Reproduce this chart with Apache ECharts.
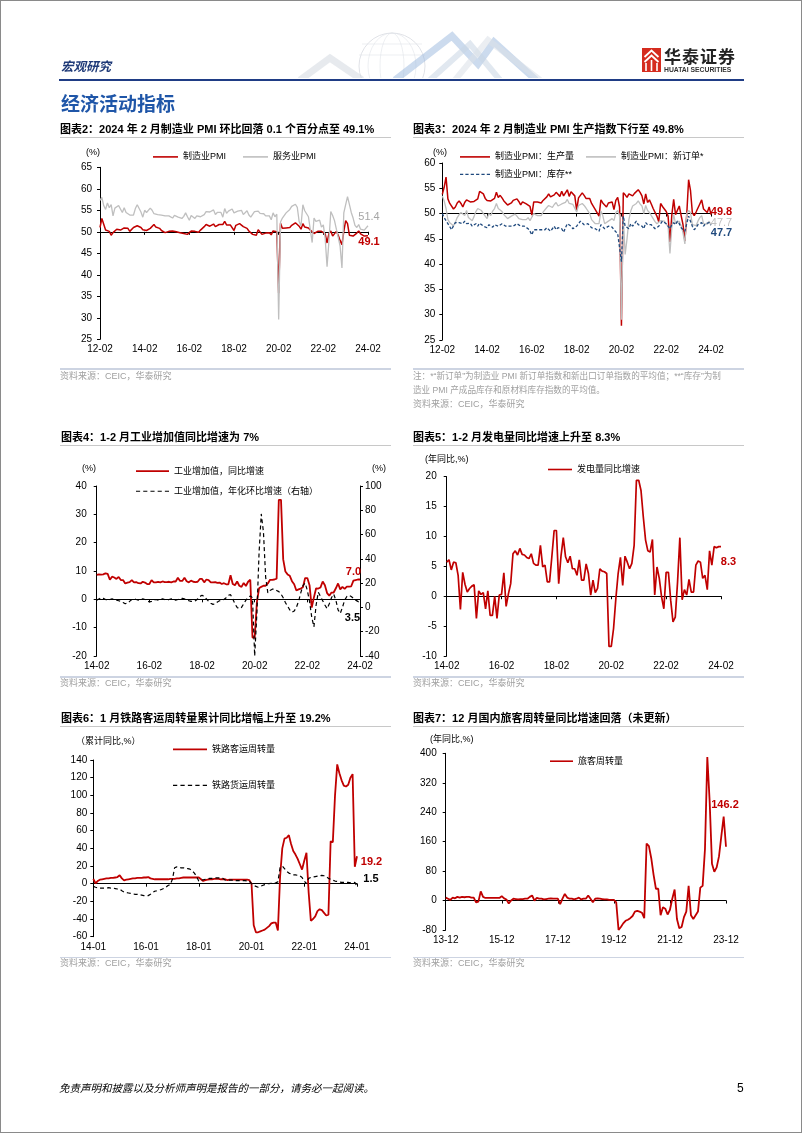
<!DOCTYPE html>
<html lang="zh-CN">
<head>
<meta charset="utf-8">
<title>经济活动指标</title>
<script src="https://cdn.jsdelivr.net/npm/echarts@6/dist/echarts.min.js"></script>
<style>
  html,body{margin:0;padding:0;background:#fff;}
  #page{position:relative;width:802px;height:1133px;overflow:hidden;background:#fff;}
  #frame{position:absolute;left:0;top:0;width:800px;height:1131px;border:1px solid #8a8a8a;pointer-events:none;}
  #chart{position:absolute;left:0;top:0;width:802px;height:1133px;}
  #deco{position:absolute;left:0;top:0;}
  .t{position:absolute;white-space:nowrap;font-family:"Liberation Sans","Noto Sans CJK SC",sans-serif;color:#000;}
  .ln{position:absolute;}
</style>
</head>
<body>
<div id="page">
  <svg id="deco" width="802" height="140" viewBox="0 0 802 140">
    <defs><clipPath id="cp"><rect x="0" y="0" width="802" height="78"/></clipPath></defs>
    <g clip-path="url(#cp)" fill="none">
      <circle cx="392" cy="66" r="33" stroke="#d8dbe1" stroke-width="0.8"/>
      <ellipse cx="392" cy="66" rx="12" ry="33" stroke="#e1e4e9" stroke-width="0.6"/>
      <ellipse cx="392" cy="66" rx="24" ry="33" stroke="#e1e4e9" stroke-width="0.6"/>
      <line x1="359" y1="55" x2="425" y2="55" stroke="#e1e4e9" stroke-width="0.6"/>
      <line x1="362" y1="44" x2="422" y2="44" stroke="#e1e4e9" stroke-width="0.6"/>
      <polyline points="300,80 330,58 362,80" stroke="#d0d6de" stroke-width="7" stroke-opacity="0.5"/>
      <polyline points="395,80 452,36 478,64 494,42 536,80" stroke="#9ab8de" stroke-width="7" stroke-opacity="0.5"/>
      <polyline points="430,80 470,44 500,80" stroke="#c9d5e4" stroke-width="6" stroke-opacity="0.55"/>
      <polyline points="455,80 488,40 540,80" stroke="#dae0e8" stroke-width="6" stroke-opacity="0.55"/>
    </g>
    <rect x="642" y="48" width="19" height="24" fill="#d52b1e"/>
    <polyline points="644.5,57 651.5,50.5 658.5,57" fill="none" stroke="#fff" stroke-width="1.8"/>
    <polyline points="644.5,62 651.5,55.5 658.5,62" fill="none" stroke="#fff" stroke-width="1.8"/>
    <line x1="646" y1="63" x2="646" y2="71" stroke="#fff" stroke-width="1.6"/>
    <line x1="651.5" y1="60" x2="651.5" y2="71" stroke="#fff" stroke-width="1.6"/>
    <line x1="657" y1="63" x2="657" y2="71" stroke="#fff" stroke-width="1.6"/>
  </svg>
  <div id="chart"></div>
  <div id="frame"></div>
</div>
<script>
// ---------------- DATA ----------------
// Chart 2: PMI, 2012-02 .. 2024-02 (monthly)
const PMI_MFG = [
  51.0,53.1,53.3,50.4,50.2,50.1,49.2,49.8,50.2,50.6,50.6,
  50.4,50.1,50.9,50.6,50.8,50.1,50.3,51.0,51.1,51.4,51.4,51.0,
  50.5,50.2,50.3,50.4,50.8,51.0,51.7,51.1,51.1,50.8,50.3,50.1,
  49.8,49.9,50.1,50.1,50.2,50.2,50.0,49.7,49.8,49.8,49.6,49.7,
  49.4,49.0,50.2,50.1,50.1,50.0,49.9,50.4,50.4,51.2,51.7,51.4,
  51.3,51.6,51.8,51.2,51.2,51.7,51.4,51.7,52.4,51.6,51.8,51.6,
  51.3,50.3,51.5,51.4,51.9,51.5,51.2,51.3,50.8,50.2,50.0,49.4,
  49.5,49.2,50.5,50.1,49.4,49.4,49.7,49.5,49.8,49.3,50.2,50.2,
  50.0,35.7,52.0,50.8,50.6,50.9,51.1,51.0,51.5,51.4,52.1,51.9,
  51.3,50.6,51.9,51.1,51.0,50.9,50.4,50.1,49.6,49.2,50.1,50.3,
  50.1,50.2,49.5,47.4,49.6,50.2,49.0,49.4,50.1,49.2,48.0,47.0,
  50.1,52.6,51.9,49.2,48.8,49.0,49.3,49.7,50.2,49.5,49.4,49.0,
  49.2,49.1];
const PMI_SRV = [
  57.3,58.0,56.1,55.2,56.7,55.6,56.3,53.7,55.5,55.6,56.1,
  56.2,54.5,55.6,54.5,54.3,53.9,54.1,53.9,55.4,56.3,56.0,54.6,
  53.4,55.0,54.5,54.8,55.5,55.0,54.2,54.4,54.0,53.8,53.9,54.1,
  53.7,53.9,53.7,53.4,53.2,53.8,53.9,53.4,53.4,53.1,53.6,54.4,
  53.5,52.7,53.8,53.5,53.1,53.7,53.9,53.5,53.7,54.0,54.7,54.5,
  54.6,54.2,55.1,54.0,54.5,54.9,54.5,53.4,55.4,54.3,54.8,55.0,
  55.3,54.4,54.6,54.8,54.9,55.0,54.0,54.2,54.9,53.9,53.4,53.8,
  54.7,54.3,54.8,54.3,54.3,54.2,53.7,53.8,53.7,52.8,54.4,53.5,
  54.1,29.6,52.3,53.2,53.6,54.4,54.2,55.2,55.9,56.2,56.4,55.7,
  52.4,51.4,56.3,54.9,55.2,53.5,53.3,47.5,53.2,52.4,52.3,52.7,
  51.1,51.6,48.4,41.9,47.8,54.7,53.8,52.6,50.6,48.7,46.7,41.6,
  54.4,56.3,58.2,56.4,54.5,53.2,51.5,51.0,51.7,50.6,50.2,50.4,
  50.7,51.4];
// Chart 3: PMI sub-indices, 2012-02 .. 2024-02
const PMI_PROD = [
  53.8,55.2,57.2,52.9,52.0,51.8,50.9,51.3,52.1,52.5,52.0,
  51.3,52.2,52.7,52.6,52.3,52.0,52.4,52.6,52.9,54.4,54.5,53.9,
  53.0,52.6,52.7,52.5,52.8,53.0,54.2,53.2,53.6,53.1,52.5,52.2,
  51.7,51.4,52.1,52.6,52.9,52.9,52.4,51.7,52.3,52.2,51.9,52.2,
  51.4,49.7,52.3,52.2,52.3,52.5,52.1,52.6,52.8,53.3,53.9,53.3,
  53.1,53.7,54.2,53.8,53.4,54.4,53.5,54.1,54.7,53.4,54.3,54.0,
  53.5,50.7,53.1,53.1,54.1,53.6,53.0,53.3,53.0,52.0,51.9,50.8,
  50.9,49.5,52.7,52.1,51.7,51.3,52.1,51.9,52.3,50.8,52.6,53.2,
  51.3,27.8,54.1,53.7,53.2,53.9,54.0,53.5,54.0,53.9,54.7,54.2,
  53.5,51.9,53.9,52.2,52.7,51.9,51.0,50.9,49.5,48.4,52.0,51.4,
  50.9,50.4,49.5,44.4,49.7,52.8,49.8,49.8,51.5,49.6,47.8,44.6,
  49.8,56.7,54.6,50.2,49.6,50.3,50.2,51.9,52.7,50.9,50.7,50.2,
  51.3,49.8];
const PMI_NEWORD = [
  53.5,52.5,51.0,48.8,48.2,48.5,47.6,48.3,49.2,49.8,50.2,
  50.0,49.6,50.6,49.2,49.5,48.6,49.4,50.4,51.0,51.2,50.6,50.0,
  49.5,49.0,50.0,49.6,50.5,51.0,52.0,51.0,50.8,50.4,49.8,49.5,
  49.0,49.3,49.5,49.8,49.9,49.5,49.0,48.8,48.8,49.0,48.8,49.2,
  48.6,48.3,50.0,49.8,49.6,49.5,49.6,50.3,50.3,51.2,51.6,51.3,
  51.2,51.8,52.2,51.5,51.3,51.9,51.7,52.2,52.8,52.0,52.1,51.8,
  51.6,50.3,51.6,51.7,52.0,51.6,51.1,50.8,50.0,48.8,48.6,48.0,
  48.0,48.0,50.5,49.6,48.0,48.0,48.5,48.8,49.0,48.6,50.2,50.6,
  49.6,29.0,49.2,41.9,45.0,48.8,50.5,51.5,51.8,52.0,52.5,51.9,
  51.5,50.0,51.6,50.6,50.2,49.6,49.0,48.4,48.0,48.0,48.6,48.8,
  48.5,48.6,47.4,42.1,47.2,49.8,48.0,48.2,48.5,47.6,46.2,44.0,
  50.0,50.6,50.2,47.8,47.5,47.6,48.5,49.2,49.6,48.0,48.3,47.9,
  48.5,47.7];
const PMI_INV = [
  50.0,49.2,48.6,48.0,47.4,46.8,47.6,48.2,48.5,48.2,48.5,
  48.0,48.5,48.0,47.8,48.1,47.5,47.8,48.0,47.5,48.1,47.8,47.5,
  47.5,47.2,47.8,47.5,47.3,47.8,48.0,47.5,47.8,48.0,47.8,47.5,
  47.8,47.5,47.2,47.5,47.8,48.0,47.8,47.5,47.3,47.5,47.2,47.0,
  46.5,45.8,46.8,46.5,46.8,47.0,46.8,47.0,46.8,47.2,47.0,46.5,
  47.0,47.5,46.8,47.2,47.5,47.0,46.3,47.2,48.0,48.2,47.5,47.0,
  47.2,47.5,48.0,48.5,48.2,47.8,47.5,48.0,47.8,47.2,47.5,47.0,
  47.0,46.5,47.8,47.5,47.0,47.2,47.5,47.5,47.3,46.8,46.5,46.0,
  45.8,40.5,49.5,47.5,47.5,47.0,48.0,47.5,48.0,48.5,47.8,48.0,
  47.5,47.0,48.2,47.8,47.5,47.8,47.5,47.0,47.2,47.5,47.8,48.5,
  48.2,48.0,47.5,47.0,47.8,48.2,47.8,48.5,48.0,47.2,47.0,46.5,
  48.0,49.5,48.5,47.5,46.8,47.2,47.8,48.0,48.2,47.5,48.0,47.8,
  48.2,47.7];
// Chart 4: industrial value added, 2014-02 .. 2024-02
const IVA_YOY = [
  8.6,8.8,8.7,8.8,9.2,9.0,6.9,8.0,7.7,7.2,7.9,
  6.8,6.8,5.6,5.9,6.1,6.8,6.0,6.1,5.7,5.6,6.2,5.9,
  5.4,5.4,6.8,6.0,6.0,6.2,6.0,6.3,6.1,6.1,6.2,6.0,
  6.3,6.3,7.6,6.5,6.5,7.6,6.4,6.0,6.6,6.2,6.1,6.2,
  7.2,7.2,6.0,7.0,6.8,6.0,6.0,6.1,5.8,5.9,5.4,5.7,
  5.3,5.3,8.5,5.4,5.0,6.3,4.8,4.4,5.8,4.7,6.2,6.9,
  -13.5,-13.5,-1.1,3.9,4.4,4.8,4.8,5.6,6.9,6.9,7.0,7.3,
  35.1,35.1,14.1,9.8,8.8,8.3,6.4,5.3,3.1,3.5,3.8,4.3,
  7.5,7.5,5.0,-2.9,0.7,3.9,3.8,4.2,6.3,5.0,2.2,1.3,
  2.4,2.4,3.9,5.6,3.5,4.4,3.7,4.5,4.5,4.6,6.6,6.8,
  7.0,7.0];
const IVA_MOM_ANN = [
  6,7,8,7.5,6.5,6,6.5,7,6.5,6,5.5,5,
  4,3,3.5,5,6.5,7,6.5,6,6.5,7,6.5,5.5,
  4.5,5,6,6.5,6,6.5,7,6.5,6,6.5,7,6.5,
  6,6.5,7,7.5,7,6,5.5,5,5,5.5,7,9,
  10,9,7,5,3.5,2.5,3,4.5,5.5,6,6.5,8,
  10,10.5,7,3,0,-1,0,3,6,8,9.5,8,
  -40,-5,45,77,62,25,12,14,15,15,14,13,
  11,8,4,1,-2,-4,-3,0,5,12,18,20,
  14,5,-8,-16,2,12.5,9,5.5,2,-1,3,8,
  11,6,-2,-5,0,6,9,10,9,7.5,6,5,
  3.5];
// Chart 5: power generation yoy, 2014-02 .. 2024-02
const POWER_YOY = [
  5.7,6.1,4.4,5.7,5.6,3.5,-2.2,4.0,2.0,0.7,
  1.3,1.7,1.9,-3.7,0.9,0.3,0.6,-2.1,0.9,-3.2,
  -3.2,0,-3.7,0.2,0.3,3.9,-1.7,0.4,2.1,7.1,
  7.6,6.9,8.0,7.0,6.9,6.5,6.3,7.1,5.5,5.2,
  5.2,8.5,4.9,5.2,2.4,2.4,6.6,11.0,11.0,2.1,
  6.7,9.8,6.6,5.6,6.7,4.6,4.6,3.5,6.1,2.7,
  2.7,5.4,3.8,0.2,2.7,0.6,1.3,4.6,4.2,4.1,
  3.8,-8.4,-8.4,-5.4,-0.4,3.8,6.5,1.8,6.7,5.7,
  4.6,5.5,8.5,19.4,19.4,17.7,13.3,9.4,7.6,7.4,
  9.5,0.2,4.9,3.0,-0.1,-2.1,4.0,4.0,-0.7,-4.3,
  -3.5,2.4,9.8,-0.6,1.1,0.2,2.8,0.7,0.7,5.2,
  5.9,5.7,3.0,3.5,1.1,7.6,5.2,8.3,8.1,8.3,
  8.3];
// Chart 6: railway turnover cumulative yoy, 2014-01 .. 2024-01
const RAIL_PASS = [
  5.5,0.5,3,4.5,5,5.5,6,6,6.5,6.5,7,7.5,
  9.5,6,3.8,4.5,5,5.5,6,6,6.5,6.5,6.5,7,
  7,7.5,6,5.5,5,5,5,5,5,5,5,5.5,
  5.5,5.5,6,6,6.5,7,7,7,7,7,7,7,
  7,5,3,4,4.5,5,5,5.5,5.5,5.5,5,5,
  5,4,4.5,4.5,4.5,4.5,4.5,4.5,4.5,4.5,4.5,4,
  0,-47,-55,-55,-54,-53,-52,-50,-48,-45,-44,-44,
  -53,8,40,51,52,55,45,37,33,28,22,16,
  26,35,-10,-42,-40,-37,-31,-29,-30,-33,-36,-35,
  48,47,100,135,125,117,111,110,112,120,124,19.2,
  31];
const RAIL_FREIGHT = [
  -3,-4,-4.5,-5,-5,-5,-5,-4.5,-5,-5,-5.5,-6,
  -6,-8,-9.5,-10,-10.5,-11,-11.5,-12,-12,-12.5,-13,-13.5,
  -14,-13.5,-12,-10,-8.5,-8,-7.5,-6.5,-5.5,-4,-2,-1,
  5,18,19,18.5,18,18,17.5,17,16.5,14.5,12,8,
  3,3.5,4.5,5,5.5,6,6,6.5,6.5,6.5,6.5,6,
  4,4,4,4,3.5,3.5,3.5,3.5,3.5,3.5,3,3,
  0,-2,-3,-4,-3,-2,-1,0,0,0.5,0.5,1,
  2,18,20,17,14,12,11,10,10,9.5,9,7,
  3,0,6,7,7.5,8,8.5,9,9.5,9,8,6,
  5,4,3,2.5,2,1.5,1.5,1.5,1.5,1,1,1.5,
  -3];
// Chart 7: domestic passenger turnover yoy, 2013-12 .. 2023-12
const PASS_TURN = [
  8,5,2,8,6,10,8,10,9,10,10,8,
  8,-5,-3,25,10,7,7,7,7,7,7,7,
  12,6,3,-8,0,5,4,3,4,4,5,5,
  10,14,0,7,5,5,3,4,5,6,5,5,
  5,-10,5,18,8,5,5,3,5,8,3,5,
  5,14,5,-5,5,6,5,4,3,3,2,2,
  2,-5,-80,-72,-62,-55,-52,-48,-42,-30,-28,-30,
  -33,-48,155,148,115,70,32,32,-40,-18,-22,-38,
  -25,5,30,-50,-75,-72,-45,-30,40,-40,-50,-40,
  -30,35,40,140,390,270,100,78,90,120,175,228,
  146.2];

// category / tick labels (one label every 24 months)
function months(y, m, n){
  const out = [];
  for (let i = 0; i < n; i++){
    const k = m - 1 + i, yy = y + Math.floor(k / 12), mm = k % 12 + 1;
    out.push(String(yy % 100).padStart(2,'0') + '-' + String(mm).padStart(2,'0'));
  }
  return out;
}
const CATS_PMI = months(2012, 2, PMI_MFG.length);    // 12-02 ... 24-02
const CATS_IND = months(2014, 2, IVA_YOY.length);    // 14-02 ... 24-02
const CATS_POW = months(2014, 2, POWER_YOY.length);  // 14-02 ... 24-02
const CATS_RAIL = months(2014, 1, RAIL_PASS.length); // 14-01 ... 24-01
const CATS_PASS = months(2013, 12, PASS_TURN.length);// 13-12 ... 23-12

// ---------------- STYLE ----------------
const FONT = '"Liberation Sans", Arial, "Noto Sans CJK SC", sans-serif';
const RED = '#C00000', GRAY = '#BFBFBF', NAVY = '#1F497D', BLACK = '#000000';

const grids = [], xAxes = [], yAxes = [], series = [], legends = [];

function addChart(g, cats, yMin, yMax, yInt, base, yMargin, xMargin){
  grids.push({left:g[0], top:g[1], width:g[2], height:g[3], containLabel:false});
  const gi = grids.length - 1;
  xAxes.push({type:'category', gridIndex:gi, data:cats, boundaryGap:false, position:'bottom',
    axisLine:{show:false, onZero:false}, axisTick:{show:false}, splitLine:{show:false},
    axisLabel:{interval:23, fontSize:10, color:'#000', margin:xMargin, fontFamily:FONT}});
  const xi = xAxes.length - 1;
  const off = -((base - yMin) / (yMax - yMin)) * g[3];
  xAxes.push({type:'category', gridIndex:gi, data:cats, boundaryGap:false, position:'bottom', offset:off,
    axisLine:{show:true, onZero:false, lineStyle:{color:'#000', width:1}},
    axisTick:{show:true, interval:23, length:3, lineStyle:{color:'#000'}},
    axisLabel:{show:false}, splitLine:{show:false}});
  yAxes.push({type:'value', gridIndex:gi, position:'left', min:yMin, max:yMax, interval:yInt,
    axisLine:{show:true, onZero:false, lineStyle:{color:'#000', width:1}},
    axisTick:{show:true, length:3, lineStyle:{color:'#000'}}, splitLine:{show:false},
    axisLabel:{fontSize:10, color:'#000', margin:yMargin, fontFamily:FONT}});
  return {gi, xi, yi: yAxes.length - 1};
}

// label attached to the last data point of a series
function endMark(arr, labelIdx, color, dx, dy, weight){
  const last = arr.length - 1;
  return {symbol:'rect', symbolSize:1, silent:true, animation:false,
    itemStyle:{color:'rgba(0,0,0,0)'},
    label:{show:true, position:'inside', formatter: arr[labelIdx].toFixed(1), color:color,
      fontSize:11, fontWeight:weight || 'bold', fontFamily:FONT, offset:[dx, dy]},
    data:[{coord:[last, arr[last]]}]};
}

function line(name, c, yi, data, color, width, type, mark){
  const s = {name, type:'line', xAxisIndex:c.xi, yAxisIndex:yi, data, symbol:'none', showSymbol:false,
    lineStyle:{color, width, type:type || 'solid'}, itemStyle:{color}, animation:false, z:3};
  if (mark) s.markPoint = mark;
  series.push(s);
}

function dashIcon(w, dash, gap){
  let p = 'path://', x = 0;
  while (x < w){ const e = Math.min(w, x + dash); p += 'M' + x + ',0H' + e + 'V1H' + x + 'Z'; x += dash + gap; }
  return p;
}
// items: [name, iconKind]  iconKind: 'solid' | [dash,gap]
function legend(left, cy, iw, gap, items, orient, ih){
  ih = ih || 1.6;
  legends.push({left, top:cy - ih / 2 - 2.5, itemWidth:iw, itemHeight:ih, itemGap:gap, padding:0,
    orient: orient || 'horizontal', selectedMode:false,
    textStyle:{fontSize:9, color:'#000', fontFamily:FONT},
    data: items.map(it => ({name: it[0], icon: it[1] === 'solid' ? 'rect' : dashIcon(iw, it[1][0], it[1][1])}))});
}

// Chart 2
const c2 = addChart([100, 167.3, 268, 172], CATS_PMI, 25, 65, 5, 50, 8, 5);
line('制造业PMI', c2, c2.yi, PMI_MFG, RED, 1.5, null, endMark(PMI_MFG, PMI_MFG.length-1, RED, 1, 6));
line('服务业PMI', c2, c2.yi, PMI_SRV, GRAY, 1.3, null, endMark(PMI_SRV, PMI_SRV.length-1, '#a6a6a6', 1, -8.5, 'normal'));
legend(153, 155.7, 25, 17, [['制造业PMI','solid'],['服务业PMI','solid']]);

// Chart 3
const c3 = addChart([442.3, 163, 268.7, 177], CATS_PMI, 25, 60, 5, 50, 7, 5);
line('制造业PMI：生产量', c3, c3.yi, PMI_PROD, RED, 1.5, null, endMark(PMI_PROD, PMI_PROD.length-1, RED, 10.5, -3));
line('制造业PMI：新订单*', c3, c3.yi, PMI_NEWORD, GRAY, 1.3, null, endMark(PMI_NEWORD, PMI_NEWORD.length-1, GRAY, 10.5, -2.5, 'normal'));
line('制造业PMI：库存**', c3, c3.yi, PMI_INV, NAVY, 1.3, [3,2], endMark(PMI_INV, PMI_INV.length-1, NAVY, 10.5, 8));
legend(460, 155.7, 30, 12, [['制造业PMI：生产量','solid'],['制造业PMI：新订单*','solid']]);
legend(460, 173.3, 30, 12, [['制造业PMI：库存**',[3,2]]], null, 1.8);

// Chart 4 (dual axis)
const c4 = addChart([96.7, 486, 263.3, 170], CATS_IND, -20, 40, 10, 0, 10, 5);
yAxes.push({type:'value', gridIndex:c4.gi, position:'right', min:-40, max:100, interval:20,
  axisLine:{show:true, onZero:false, lineStyle:{color:'#000', width:1}},
  axisTick:{show:true, length:3, lineStyle:{color:'#000'}}, splitLine:{show:false},
  axisLabel:{fontSize:10, color:'#000', margin:5, fontFamily:FONT}});
const c4yr = yAxes.length - 1;
line('工业增加值，同比增速', c4, c4.yi, IVA_YOY, RED, 1.8, null, endMark(IVA_YOY, IVA_YOY.length-1, RED, -6.5, -8));
line('工业增加值，年化环比增速（右轴）', c4, c4yr, IVA_MOM_ANN, BLACK, 1.2, [4,3], endMark(IVA_MOM_ANN, IVA_MOM_ANN.length-1, BLACK, -7.5, 15));
legend(136, 470, 33, 11.2, [['工业增加值，同比增速','solid'],['工业增加值，年化环比增速（右轴）',[4,3]]], 'vertical', 1.8);

// Chart 5
const c5 = addChart([446.7, 476.7, 274.3, 179.3], CATS_POW, -10, 20, 5, 0, 10, 5);
line('发电量同比增速', c5, c5.yi, POWER_YOY, RED, 1.7, null, endMark(POWER_YOY, POWER_YOY.length-1, RED, 7.5, 15));
legend(548, 468.3, 24, 10, [['发电量同比增速','solid']]);

// Chart 6
const c6 = addChart([93.3, 760, 263.7, 176.7], CATS_RAIL, -60, 140, 20, 0, 6, 6);
line('铁路客运周转量', c6, c6.yi, RAIL_PASS, RED, 1.8, null, endMark(RAIL_PASS, RAIL_PASS.length-2, RED, 14.5, 5.4));
line('铁路货运周转量', c6, c6.yi, RAIL_FREIGHT, BLACK, 1.2, [4,3], endMark(RAIL_FREIGHT, RAIL_FREIGHT.length-2, BLACK, 14, -7));
legend(173, 748.3, 34, 27, [['铁路客运周转量','solid'],['铁路货运周转量',[4,3]]], 'vertical', 1.8);

// Chart 7
const c7 = addChart([445.7, 753.3, 280.3, 176.7], CATS_PASS, -80, 400, 80, 0, 9, 5.5);
line('旅客周转量', c7, c7.yi, PASS_TURN, RED, 1.8, null, endMark(PASS_TURN, PASS_TURN.length-1, RED, -1, -42));
legend(550, 760, 23, 10, [['旅客周转量','solid']]);

const chart = echarts.init(document.getElementById('chart'), null, {renderer:'canvas'});
chart.setOption({animation:false, backgroundColor:'transparent', grid:grids, xAxis:xAxes, yAxis:yAxes, series, legend:legends});

// ---------------- PAGE TEXT ----------------
const page = document.getElementById('page');
function txt(s, left, cy, fs, css){
  const d = document.createElement('div');
  d.className = 't';
  d.textContent = s;
  d.style.left = left + 'px';
  d.style.top = (cy - fs * 0.65) + 'px';
  d.style.fontSize = fs + 'px';
  d.style.lineHeight = (fs * 1.3) + 'px';
  if (css) Object.assign(d.style, css);
  page.appendChild(d);
}
function hline(left, top, width, h, color){
  const d = document.createElement('div');
  d.className = 'ln';
  Object.assign(d.style, {left:left+'px', top:top+'px', width:width+'px', height:h+'px', background:color});
  page.appendChild(d);
}
const BOLD = {fontWeight:'bold'};
// header
txt('宏观研究', 61, 66, 12.5, {fontWeight:'bold', fontStyle:'italic', color:'#1f3a78', fontFamily:'"Noto Sans CJK SC",sans-serif'});
hline(59, 78.5, 685, 2.5, '#1f3c85');
txt('华泰证券', 664, 56.5, 17, {fontWeight:'bold', color:'#222', letterSpacing:'1px', fontFamily:'"Noto Sans CJK SC",sans-serif'});
txt('HUATAI SECURITIES', 664, 70.5, 6.8, {fontWeight:'bold', color:'#333'});
txt('经济活动指标', 61, 103, 19, {fontWeight:'bold', color:'#1f56a8', fontFamily:'"Noto Sans CJK SC",sans-serif'});
// chart titles
txt('图表2：2024 年 2 月制造业 PMI 环比回落 0.1 个百分点至 49.1%', 60, 129.3, 11, BOLD);
txt('图表3：2024 年 2 月制造业 PMI 生产指数下行至 49.8%', 413, 129.3, 11, BOLD);
txt('图表4：1-2 月工业增加值同比增速为 7%', 61, 437.3, 11, BOLD);
txt('图表5：1-2 月发电量同比增速上升至 8.3%', 413, 437.3, 11, BOLD);
txt('图表6：1 月铁路客运周转量累计同比增幅上升至 19.2%', 61, 718.3, 11, BOLD);
txt('图表7：12 月国内旅客周转量同比增速回落（未更新）', 413, 718.3, 11, BOLD);
[136.7, 445, 725.7].forEach(y => { hline(60, y, 331, 1, '#c8c8c8'); hline(413, y, 331, 1, '#c8c8c8'); });
// axis unit labels
const UL = {color:'#000'};
txt('(%)', 86, 152.7, 9, UL);
txt('(%)', 433, 153.3, 9, UL);
txt('(%)', 82, 469.3, 9, UL);
txt('(%)', 372, 469.3, 9, UL);
txt('(年同比,%)', 425, 460, 9, UL);
txt('（累计同比,%）', 76, 742.3, 9, UL);
txt('(年同比,%)', 430, 740, 9, UL);
// separators and sources
const SRC = {color:'#a0a0a0'};
[[60, 368], [413, 368], [60, 676], [413, 676], [60, 956.7], [413, 956.7]].forEach(p => hline(p[0], p[1], 331, 1.5, '#cdd4e2'));
txt('资料来源：CEIC，华泰研究', 60, 376.5, 9, SRC);
txt('注：*“新订单”为制造业 PMI 新订单指数和新出口订单指数的平均值；**“库存”为制', 413, 377, 8.6, SRC);
txt('造业 PMI 产成品库存和原材料库存指数的平均值。', 413, 391, 8.6, SRC);
txt('资料来源：CEIC，华泰研究', 413, 404.5, 9, SRC);
txt('资料来源：CEIC，华泰研究', 60, 684, 9, SRC);
txt('资料来源：CEIC，华泰研究', 413, 684, 9, SRC);
txt('资料来源：CEIC，华泰研究', 60, 964, 9, SRC);
txt('资料来源：CEIC，华泰研究', 413, 964, 9, SRC);
// footer
txt('免责声明和披露以及分析师声明是报告的一部分，请务必一起阅读。', 59, 1089, 10.5, {fontStyle:'italic', color:'#000'});
txt('5', 737, 1089, 12, {color:'#000'});
</script>
</body>
</html>
